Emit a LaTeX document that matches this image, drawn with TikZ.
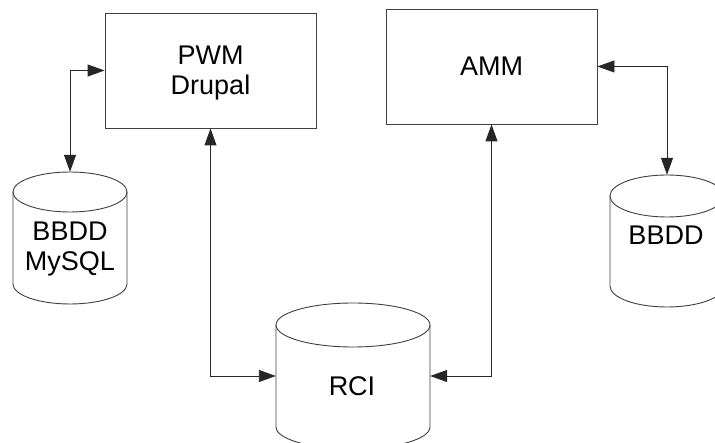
\documentclass[tikz,border=0pt]{standalone}
\usepackage{fontspec}
\setmainfont{Liberation Sans}
\usetikzlibrary{arrows.meta}
\newcommand\drawdbcyl[5]{% cx, yt (ellipse centre), yb (side end), rx, ry
  \draw[shapeline] ({#1-#4},#2) -- ({#1-#4},#3)
    arc[start angle=180, end angle=360, x radius=#4pt, y radius=#5pt]
    -- ({#1+#4},#2);
  \draw[shapeline] (#1,#2) ellipse[x radius=#4pt, y radius=#5pt];
}
\tikzset{
  shapeline/.style={draw=black!75, line width=0.9pt},
  boxnode/.style={shapeline, rectangle, inner sep=0pt, align=center,
    font=\fontsize{27}{30}\selectfont, text depth=0pt},
  cylarea/.style={rectangle, inner sep=0pt},
  txt/.style={inner sep=0pt, align=center, font=\fontsize{27}{30}\selectfont, text depth=0pt},
  link/.style={draw=black!85, line width=0.9pt, {Triangle[length=17pt,width=12pt]}-{Triangle[length=17pt,width=12pt]}}
}
\begin{document}
\begin{tikzpicture}[x=1pt,y=-1pt]
\useasboundingbox (0,0) rectangle (715,443);
\clip (0,0) rectangle (715,443);
\fill[white] (0,0) rectangle (715,443);

% boxes
\node[boxnode, minimum width=211pt, minimum height=115pt] (pwm) at (210.5,70.5) {PWM\\Drupal};
\node[boxnode, minimum width=211pt, minimum height=115pt] (amm) at (491.5,66.5) {AMM};

% cylinders
\drawdbcyl{70}{192}{284}{57}{20}
\node[cylarea, minimum width=114pt, minimum height=132pt] (mysql) at (70,238) {};
\node[txt] (mysqltxt) at (70,246.3) {BBDD\\MySQL};

\drawdbcyl{667}{196}{286}{57}{21}
\node[cylarea, minimum width=114pt, minimum height=132pt] (bbdd) at (667,241) {};
\node[txt] (bbddtxt) at (666,235.3) {BBDD};

\drawdbcyl{353}{325}{427}{77}{22}
\node[cylarea, minimum width=154pt, minimum height=146pt] (rci) at (353,376) {};
\node[txt] (rcitxt) at (352,386.3) {RCI};

% connectors
\draw[link] (mysql.north) |- (pwm.west);
\draw[link] (pwm.south) |- (rci.west);
\draw[link] (amm.south) |- (rci.east);
\draw[link] (amm.east) -| (bbdd.north);
\end{tikzpicture}
\end{document}
